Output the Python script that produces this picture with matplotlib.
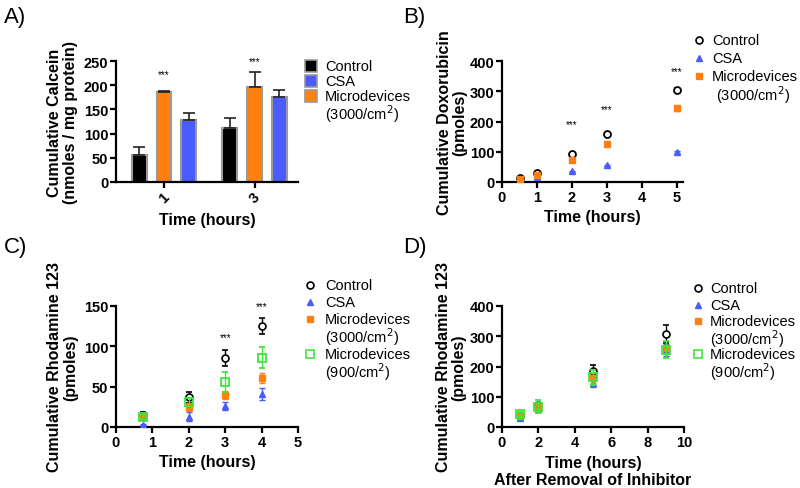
import matplotlib
matplotlib.use("Agg")
import matplotlib.pyplot as plt
from matplotlib.patches import Rectangle
from matplotlib.lines import Line2D
import numpy as np

plt.rcParams['font.family'] = ['Liberation Sans', 'DejaVu Sans']

# ---------------- data ----------------
# Panel A: bars (order on plot: Control, Microdevices, CSA)
a_times = ["1", "3"]
a_control = [55, 111]
a_control_err = [18, 22]
a_micro = [186, 196]
a_micro_err = [2, 32]
a_csa = [129, 176]
a_csa_err = [14, 14]

# Panel B: doxorubicin
b_x = [0.5, 1, 2, 3, 5]
b_control = [12, 30, 92, 160, 305]
b_control_err = [2, 2, 3, 3, 6]
b_csa = [8, 17, 35, 55, 100]
b_csa_err = [1, 1, 2, 2, 3]
b_micro = [10, 23, 72, 126, 243]
b_micro_err = [1, 2, 3, 4, 8]
b_star_x = [2, 3, 5]
b_star_y = [192, 241, 367]

# Panel C: rhodamine 123
c_x = [0.75, 2, 3, 4]
c_control = [15, 37, 86, 125]
c_control_err = [3, 7, 10, 10]
c_csa = [3, 13, 26, 41]
c_csa_err = [1, 5, 5, 7]
c_micro3000 = [13, 25, 40, 61]
c_micro3000_err = [4, 5, 5, 6]
c_micro900 = [13, 31, 56, 86]
c_micro900_err = [3, 5, 12, 13]
c_star_x = [3, 4]
c_star_y = [112, 150]

# Panel D: rhodamine after inhibitor removal
d_x = [1, 2, 5, 9]
d_control = [38, 72, 185, 308]
d_control_err = [5, 8, 20, 30]
d_csa = [30, 60, 145, 255]
d_csa_err = [5, 8, 12, 20]
d_micro3000 = [35, 65, 162, 262]
d_micro3000_err = [5, 8, 15, 22]
d_micro900 = [42, 67, 165, 255]
d_micro900_err = [6, 22, 25, 28]

BLACK = "#000000"
BLUE = "#4a5cff"
ORANGE = "#ff800e"
GREEN = "#3fe53f"
EDGE = "#9a9a9a"

W, H = 800, 489
fig = plt.figure(figsize=(W / 100, H / 100), dpi=100)


def add_ax(left, top, right, bottom):
    return fig.add_axes([left / W, 1 - bottom / H, (right - left) / W, (bottom - top) / H])


def style(ax):
    for s in ["top", "right"]:
        ax.spines[s].set_visible(False)
    for s in ["left", "bottom"]:
        ax.spines[s].set_linewidth(1.6)
    ax.tick_params(width=1.6, length=4, labelsize=10.5, pad=1.5)
    for lab in ax.get_xticklabels() + ax.get_yticklabels():
        lab.set_fontweight("bold")


LABFS = 11.5
LEGFS = 10.5


def ftext(x, y, s):
    fig.text(x / W, 1 - y / H, s, fontsize=LEGFS, ha="left", va="center")


def fmarker(x, y, **kw):
    fig.add_artist(Line2D([x / W], [1 - y / H], transform=fig.transFigure,
                          ls="none", **kw))


MK_CTRL = dict(marker="o", ms=5, mfc="white", mec=BLACK, mew=1.2)
MK_CSA = dict(marker="^", ms=4, color=BLUE)
MK_M3000 = dict(marker="s", ms=4.5, color=ORANGE)
MK_M900 = dict(marker="s", ms=5.5, mfc="white", mec=GREEN, mew=1.2)

# ---------------- Panel A ----------------
axA = add_ax(116, 62, 298, 183)
gx = np.arange(len(a_times))
off = 0.275
bw = 0.165
ek = dict(ecolor="#222222", elinewidth=1.2, capsize=4, capthick=1.2)
axA.bar(gx - off, a_control, bw, color=BLACK, edgecolor=EDGE, linewidth=1.5,
        yerr=[np.zeros(2), a_control_err], error_kw=ek, zorder=2)
axA.bar(gx, a_micro, bw, color=ORANGE, edgecolor=EDGE, linewidth=1.5,
        yerr=[np.zeros(2), a_micro_err], error_kw=ek, zorder=2)
axA.bar(gx + off, a_csa, bw, color=BLUE, edgecolor=EDGE, linewidth=1.5,
        yerr=[np.zeros(2), a_csa_err], error_kw=ek, zorder=2)
axA.set_xlim(-0.53, 1.48)
axA.set_ylim(0, 250)
axA.set_yticks([0, 50, 100, 150, 200, 250])
axA.set_xticks(gx)
axA.set_xticklabels(a_times, rotation=45)
style(axA)
axA.text(0, 222, "***", ha="center", va="center", fontsize=7, clip_on=False)
axA.text(1, 250, "***", ha="center", va="center", fontsize=7, clip_on=False)
axA.set_xlabel("Time (hours)", fontsize=LABFS, fontweight="bold")
axA.xaxis.set_label_coords(0.5, -0.245)
axA.set_ylabel("Cumulative Calcein\n(nmoles / mg protein)", fontsize=LABFS,
               fontweight="bold", linespacing=1.05)
axA.yaxis.set_label_coords(-0.21, 0.5)
for col, lab, y in [(BLACK, "Control", 67), (BLUE, "CSA", 82), (ORANGE, "Microdevices", 97)]:
    fig.add_artist(Rectangle(((305) / W, 1 - (y + 6) / H), 12 / W, 12 / H,
                             transform=fig.transFigure, facecolor=col,
                             edgecolor=EDGE, linewidth=1.2))
    ftext(325, y, lab)
ftext(325, 114, "(3000/cm$^2$)")

# ---------------- Panel B ----------------
axB = add_ax(502, 62, 683, 183)
ms = 5
eb = dict(capsize=2.5, elinewidth=1.0, capthick=1.0, linestyle="none")
axB.errorbar(b_x, b_control, yerr=b_control_err, marker="o", ms=ms, mfc="white",
             mec=BLACK, mew=1.3, color=BLACK, zorder=3, **eb)
axB.errorbar(b_x, b_csa, yerr=b_csa_err, marker="^", ms=ms, color=BLUE, zorder=4, **eb)
axB.errorbar(b_x, b_micro, yerr=b_micro_err, marker="s", ms=ms, color=ORANGE, zorder=5, **eb)
axB.set_xlim(0, 5.17)
axB.set_ylim(0, 400)
axB.set_xticks([0, 1, 2, 3, 4, 5])
axB.set_yticks([0, 100, 200, 300, 400])
style(axB)
for sx, sy in zip(b_star_x, b_star_y):
    axB.text(sx, sy, "***", ha="center", va="center", fontsize=7, clip_on=False)
axB.set_xlabel("Time (hours)", fontsize=LABFS, fontweight="bold")
axB.xaxis.set_label_coords(0.5, -0.225)
axB.set_ylabel("Cumulative Doxorubicin\n(pmoles)", fontsize=LABFS,
               fontweight="bold", linespacing=1.05)
axB.yaxis.set_label_coords(-0.19, 0.5)
fmarker(699, 41, **MK_CTRL)
ftext(712, 41, "Control")
fmarker(699, 59, **MK_CSA)
ftext(712, 59, "CSA")
fmarker(699, 77, **MK_M3000)
ftext(712, 77, "Microdevices")
ftext(716, 95, "(3000/cm$^2$)")

# ---------------- Panel C ----------------
axC = add_ax(116, 307, 298, 428)
axC.errorbar(c_x, c_control, yerr=c_control_err, marker="o", ms=ms, mfc="white",
             mec=BLACK, mew=1.2, color=BLACK, zorder=3, **eb)
axC.errorbar(c_x, c_csa, yerr=c_csa_err, marker="^", ms=4.5, color=BLUE, zorder=4, **eb)
axC.errorbar(c_x, c_micro3000, yerr=c_micro3000_err, marker="s", ms=ms, color=ORANGE,
             zorder=5, **eb)
axC.errorbar(c_x, c_micro900, yerr=c_micro900_err, marker="s", ms=6, mfc="none",
             mec=GREEN, mew=1.3, color=GREEN, zorder=6, **eb)
axC.set_xlim(0, 5)
axC.set_ylim(0, 150)
axC.set_xticks([0, 1, 2, 3, 4, 5])
axC.set_yticks([0, 50, 100, 150])
style(axC)
for sx, sy in zip(c_star_x, c_star_y):
    axC.text(sx, sy, "***", ha="center", va="center", fontsize=7, clip_on=False)
axC.set_xlabel("Time (hours)", fontsize=LABFS, fontweight="bold")
axC.xaxis.set_label_coords(0.5, -0.225)
axC.set_ylabel("Cumulative Rhodamine 123\n(pmoles)", fontsize=LABFS,
               fontweight="bold", linespacing=1.05)
axC.yaxis.set_label_coords(-0.21, 0.5)


def legend4(xm, xt, y0, dy):
    fmarker(xm, y0, **MK_CTRL)
    ftext(xt, y0, "Control")
    fmarker(xm, y0 + dy, **MK_CSA)
    ftext(xt, y0 + dy, "CSA")
    fmarker(xm, y0 + 2 * dy, **MK_M3000)
    ftext(xt, y0 + 2 * dy, "Microdevices")
    ftext(xt, y0 + 3 * dy, "(3000/cm$^2$)")
    fmarker(xm, y0 + 4 * dy, **MK_M900)
    ftext(xt, y0 + 4 * dy, "Microdevices")
    ftext(xt, y0 + 5 * dy, "(900/cm$^2$)")


legend4(310, 325, 286, 17.2)

# ---------------- Panel D ----------------
axD = add_ax(502, 307, 684, 428)
axD.errorbar(d_x, d_control, yerr=d_control_err, marker="o", ms=ms, mfc="white",
             mec=BLACK, mew=1.2, color=BLACK, zorder=3, **eb)
axD.errorbar(d_x, d_csa, yerr=d_csa_err, marker="^", ms=4.5, color=BLUE, zorder=4, **eb)
axD.errorbar(d_x, d_micro3000, yerr=d_micro3000_err, marker="s", ms=ms, color=ORANGE,
             zorder=5, **eb)
axD.errorbar(d_x, d_micro900, yerr=d_micro900_err, marker="s", ms=6, mfc="none",
             mec=GREEN, mew=1.3, color=GREEN, zorder=6, **eb)
axD.set_xlim(0, 10)
axD.set_ylim(0, 400)
axD.set_xticks([0, 2, 4, 6, 8, 10])
axD.set_yticks([0, 100, 200, 300, 400])
style(axD)
axD.set_xlabel("Time (hours)\nAfter Removal of Inhibitor", fontsize=LABFS,
               fontweight="bold", linespacing=1.15)
axD.xaxis.set_label_coords(0.5, -0.23)
axD.set_ylabel("Cumulative Rhodamine 123\n(pmoles)", fontsize=LABFS,
               fontweight="bold", linespacing=1.05)
axD.yaxis.set_label_coords(-0.195, 0.5)
legend4(698, 710, 289, 16.6)

# ---------------- panel letters ----------------
for txt, x, y in [("A)", 4, 18), ("B)", 403, 18), ("C)", 4, 247), ("D)", 403, 247)]:
    fig.text(x / W, 1 - y / H, txt, fontsize=16, ha="left", va="center")

fig.savefig("out.png", dpi=100)
